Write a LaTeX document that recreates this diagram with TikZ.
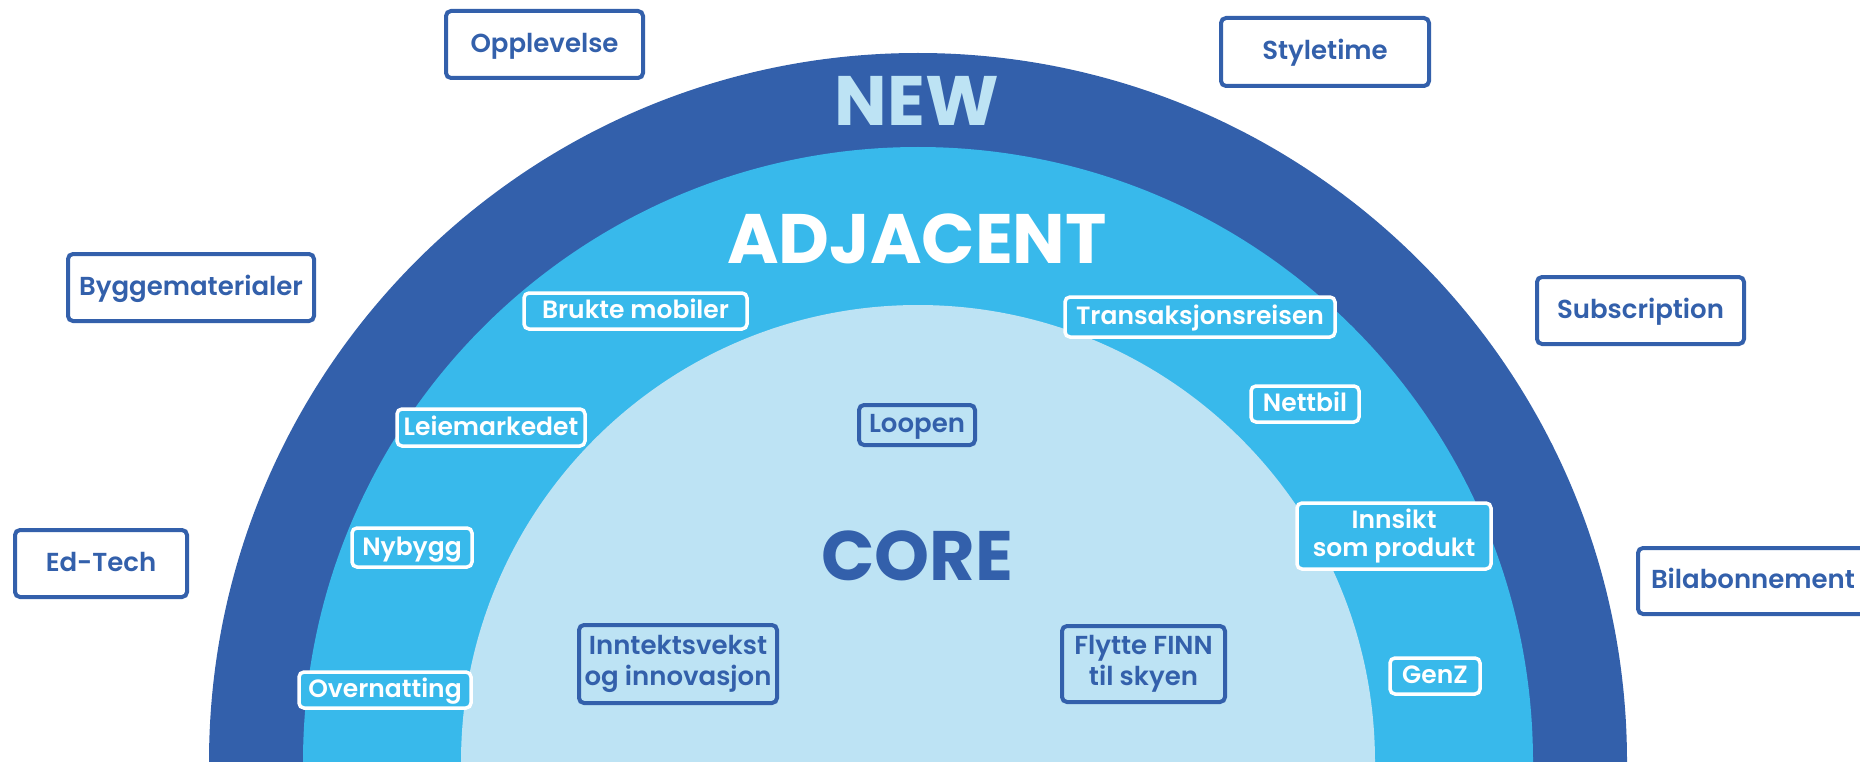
\documentclass[tikz,border=0pt]{standalone}
\usepackage{fontspec}
\setmainfont{Poppins}
\newfontfamily\labfont{Poppins SemiBold}
\definecolor{dark}{HTML}{3360AB}
\definecolor{mid}{HTML}{38B9EB}
\definecolor{light}{HTML}{BDE3F4}
\tikzset{
  basebox/.style={rounded corners=5pt, inner sep=0pt,
    font=\labfont\fontsize{26}{31}\selectfont, text height=18.5pt, text depth=3pt},
  twoline/.style={align=center, text height={}, text depth={}},
  outerbox/.style={basebox, draw=dark, line width=4pt, fill=white, text=dark},
  adjbox/.style={basebox, draw=white, line width=3.5pt, fill=mid, text=white, font=\labfont\fontsize{25}{28}\selectfont},
  corebox/.style={basebox, draw=dark, line width=4pt, text=dark},
  title/.style={anchor=base, inner sep=0pt, font=\bfseries\fontsize{70}{70}\selectfont}
}
\begin{document}
\begin{tikzpicture}[x=1pt,y=-1pt]
\useasboundingbox (0,0) rectangle (1860,762);
\clip (0,0) rectangle (1860,762);
\fill[white] (0,0) rectangle (1860,762);
% rings
\fill[dark] (918,762) circle[radius=709pt];
\fill[mid] (918,762) circle[radius=615pt];
\fill[light] (918,762) circle[radius=457pt];
% titles
\node[title, text=light] (new) at (917,126) {NEW};
\node[title, text=white] (adj) at (917,263) {ADJACENT};
\node[title, text=dark] (core) at (917,580) {CORE};
% outer boxes
\node[outerbox, minimum width=197pt, minimum height=67pt] (opp) at (544.5,44.5) {Opplevelse};
\node[outerbox, minimum width=208pt, minimum height=68pt] (sty) at (1325,52) {Styletime};
\node[outerbox, minimum width=246pt, minimum height=67pt] (byg) at (191,287.5) {Byggematerialer};
\node[outerbox, minimum width=207pt, minimum height=67pt] (sub) at (1640.5,310.5) {Subscription};
\node[outerbox, minimum width=172pt, minimum height=67pt] (edt) at (101,563.5) {Ed-Tech};
\node[outerbox, minimum width=230pt, minimum height=66pt] (bil) at (1753,581) {Bilabonnement};
% adjacent boxes
\node[adjbox, minimum width=223pt, minimum height=36pt] (bru) at (635.5,311) {Brukte mobiler};
\node[adjbox, minimum width=270pt, minimum height=40pt] (tra) at (1200,317) {Transaksjonsreisen};
\node[adjbox, minimum width=188pt, minimum height=37pt] (lei) at (491,427.5) {Leiemarkedet};
\node[adjbox, minimum width=108pt, minimum height=36pt] (net) at (1305,404) {Nettbil};
\node[adjbox, minimum width=120pt, minimum height=39pt] (nyb) at (412,547.5) {Nybygg};
\node[adjbox, twoline, minimum width=194pt, minimum height=66pt] (inn) at (1394,536) {Innsikt\\som produkt};
\node[adjbox, minimum width=172pt, minimum height=36pt] (ove) at (385,690) {Overnatting};
\node[adjbox, minimum width=90pt, minimum height=36pt] (gen) at (1435,676) {GenZ};
% core boxes
\node[corebox, minimum width=116pt, minimum height=40pt] (loo) at (917,425) {Loopen};
\node[corebox, twoline, minimum width=198pt, minimum height=78pt] (ink) at (678,664) {Inntektsvekst\\og innovasjon};
\node[corebox, twoline, minimum width=163pt, minimum height=76pt] (fly) at (1143.5,664) {Flytte FINN\\til skyen};
\end{tikzpicture}
\end{document}
